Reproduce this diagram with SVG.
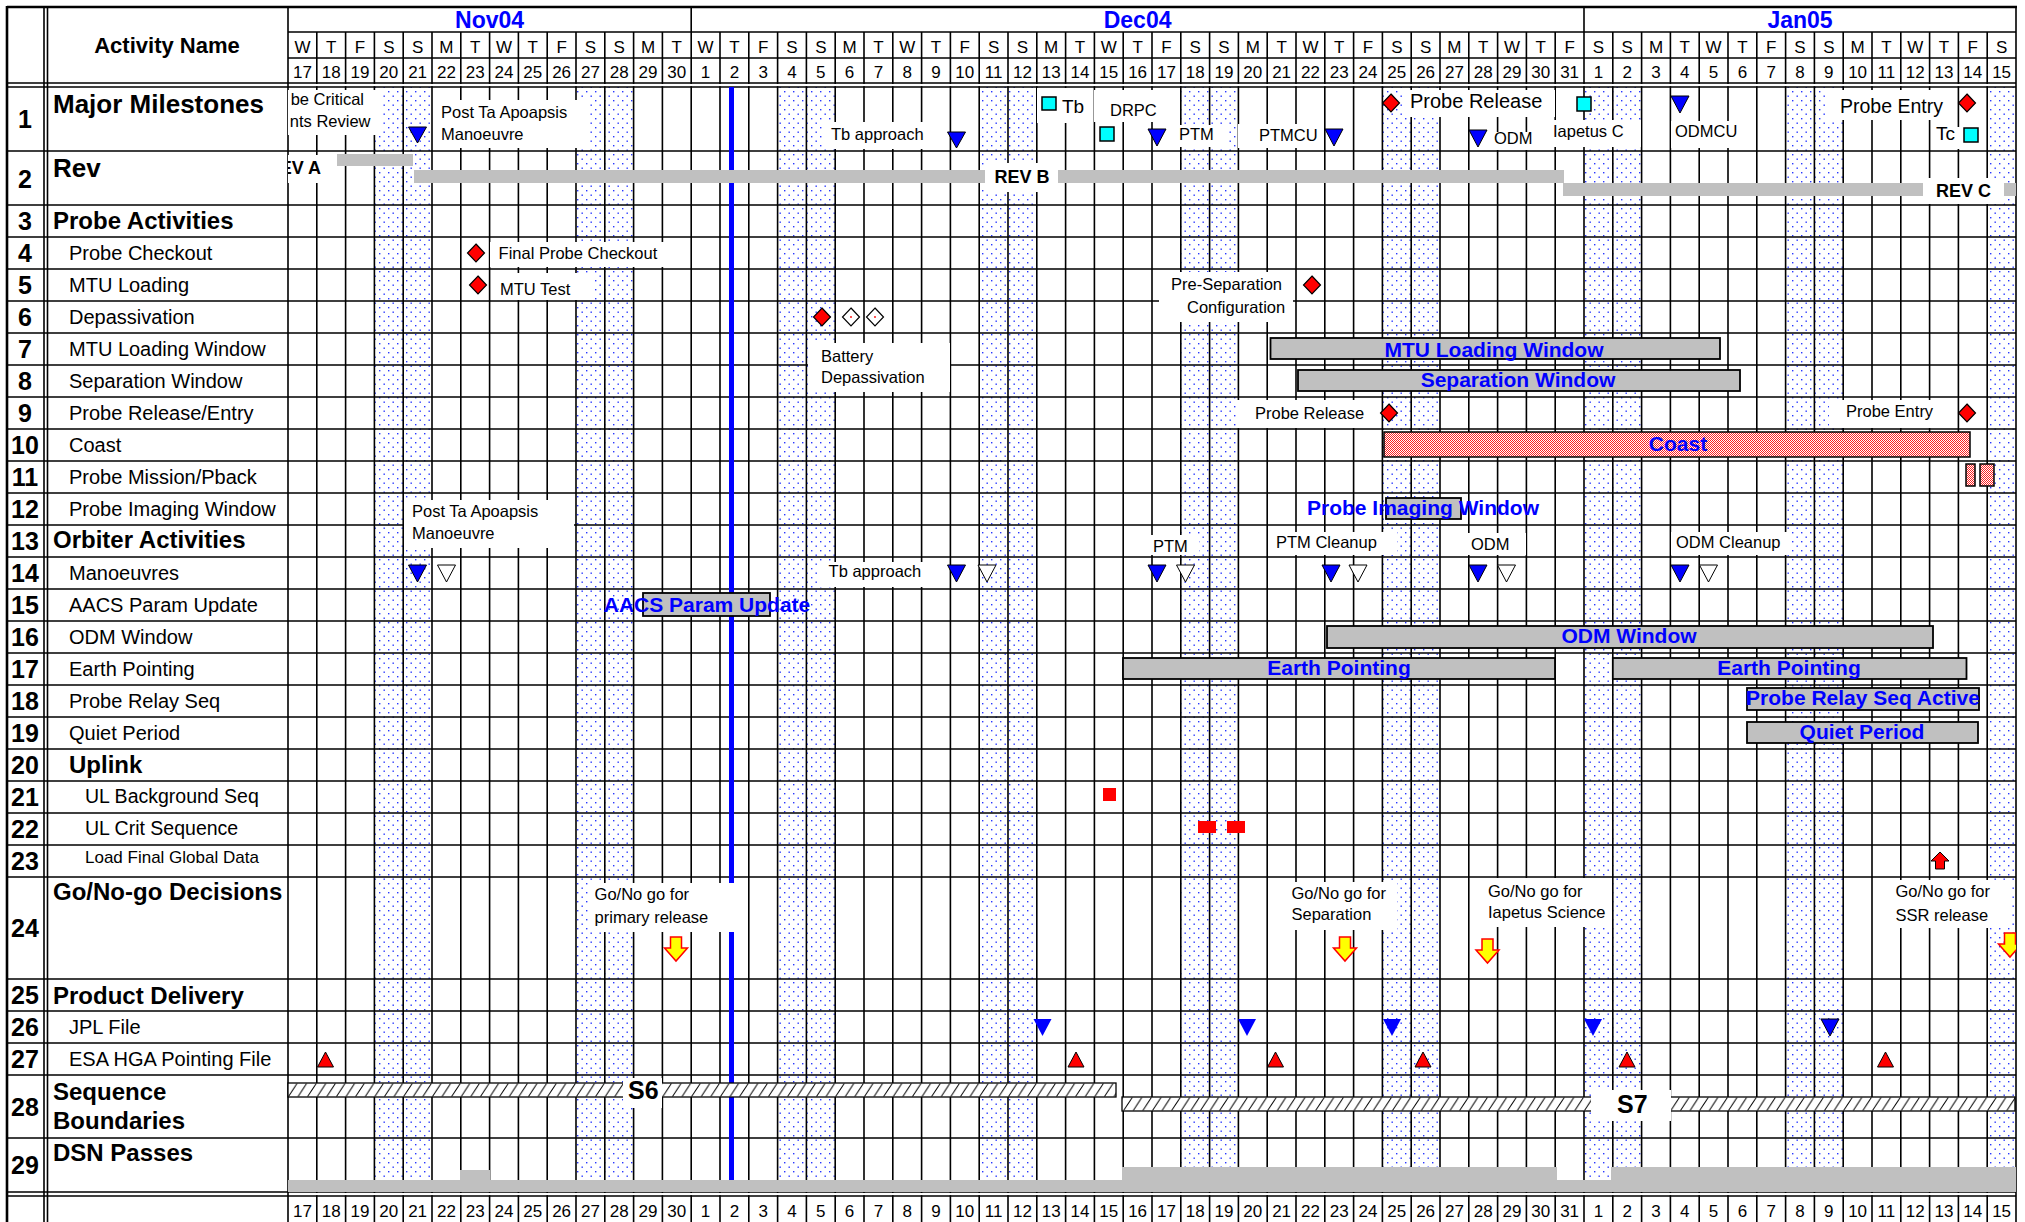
<svg xmlns="http://www.w3.org/2000/svg" width="2025" height="1222" viewBox="0 0 2025 1222">
<style>
text{font-family:"Liberation Sans",Arial,sans-serif;fill:#000}
.gl{stroke:#000;stroke-width:1.6;fill:none}
.mon{font-size:23px;font-weight:bold;fill:#0000ff;text-anchor:middle}
.dl{font-size:17px;text-anchor:middle}
.rn{font-size:25px;font-weight:bold;text-anchor:middle}
.h1{font-size:26px;font-weight:bold}
.h2{font-size:24px;font-weight:bold}
.it{font-size:20px}
.an{font-size:16.5px}
.anL{font-size:20px}
.box{fill:#fff}
.bar{fill:#c0c0c0;stroke:#000;stroke-width:1.8}
.rb{fill:#c0c0c0}
.bt{font-size:21px;font-weight:bold;fill:#0000ff;text-anchor:middle}
.tb{fill:#0000ff;stroke:#000;stroke-width:1}
.tn{fill:#0000ff}
.tw{fill:#fff;stroke:#000;stroke-width:1}
.dr{fill:#ff0000;stroke:#000;stroke-width:1.2}
.dw{fill:#fff;stroke:#000;stroke-width:1.2}
.sq{fill:#00ffff;stroke:#000;stroke-width:1.5}
.ru{fill:#ff0000;stroke:#000;stroke-width:1}
.ya{fill:#ffff00;stroke:#ff0000;stroke-width:1.5}
.rev{font-size:18px;font-weight:bold}
.pk{fill:url(#pk);stroke:#000;stroke-width:1.5}
.hb{fill:url(#hatch);stroke:#000;stroke-width:1.3}
.sl{font-size:25px;font-weight:bold}
</style>
<defs>
<pattern id="wk" patternUnits="userSpaceOnUse" width="9" height="9"><rect width="9" height="9" fill="#fff"/><rect x="1" y="1" width="1.4" height="1.4" fill="#2838ff"/><rect x="5.5" y="5.5" width="1.4" height="1.4" fill="#2838ff"/></pattern>
<pattern id="pk" patternUnits="userSpaceOnUse" width="2" height="2"><rect width="2" height="2" fill="#fff"/><rect width="1" height="1" fill="#ff2020"/><rect x="1" y="1" width="1" height="1" fill="#ff2020"/></pattern>
<pattern id="hatch" patternUnits="userSpaceOnUse" x="0" y="1083" width="9.6" height="14"><rect width="9.6" height="14" fill="#fff"/><path d="M0.5 13.5L9 0.5" stroke="#000" stroke-width="1"/></pattern>
<clipPath id="ch"><rect x="288" y="87" width="1728" height="1105"/></clipPath>
</defs>
<rect width="2025" height="1222" fill="#fff"/>

<g id="weekends" fill="url(#wk)">
<rect x="374.4" y="87" width="57.6" height="1105"/>
<rect x="576" y="87" width="57.6" height="1105"/>
<rect x="777.6" y="87" width="57.6" height="1105"/>
<rect x="979.2" y="87" width="57.6" height="1105"/>
<rect x="1180.8" y="87" width="57.6" height="1105"/>
<rect x="1382.4" y="87" width="57.6" height="1105"/>
<rect x="1584" y="87" width="57.6" height="1105"/>
<rect x="1785.6" y="87" width="57.6" height="1105"/>
<rect x="1987.2" y="87" width="28.8" height="1105"/>
</g>

<g id="grid">
<path class="gl" d="M316.8 32V1222M345.6 32V1222M374.4 32V1222M403.2 32V1222M432 32V1222M460.8 32V1222M489.6 32V1222M518.4 32V1222M547.2 32V1222M576 32V1222M604.8 32V1222M633.6 32V1222M662.4 32V1222M691.2 7V1222M720 32V1222M748.8 32V1222M777.6 32V1222M806.4 32V1222M835.2 32V1222M864 32V1222M892.8 32V1222M921.6 32V1222M950.4 32V1222M979.2 32V1222M1008 32V1222M1036.8 32V1222M1065.6 32V1222M1094.4 32V1222M1123.2 32V1222M1152 32V1222M1180.8 32V1222M1209.6 32V1222M1238.4 32V1222M1267.2 32V1222M1296 32V1222M1324.8 32V1222M1353.6 32V1222M1382.4 32V1222M1411.2 32V1222M1440 32V1222M1468.8 32V1222M1497.6 32V1222M1526.4 32V1222M1555.2 32V1222M1584 7V1222M1612.8 32V1222M1641.6 32V1222M1670.4 32V1222M1699.2 32V1222M1728 32V1222M1756.8 32V1222M1785.6 32V1222M1814.4 32V1222M1843.2 32V1222M1872 32V1222M1900.8 32V1222M1929.6 32V1222M1958.4 32V1222M1987.2 32V1222"/>
<rect x="7" y="84" width="2009" height="2.2" fill="#fff"/>
<rect x="7" y="1193" width="2009" height="2.2" fill="#fff"/>
<path class="gl" d="M288 32H2016M288 58H2016M7 83H2016M7 87H2016M7 151H2016M7 205H2016M7 237H2016M7 269H2016M7 301H2016M7 333H2016M7 365H2016M7 397H2016M7 429H2016M7 461H2016M7 493H2016M7 525H2016M7 557H2016M7 589H2016M7 621H2016M7 653H2016M7 685H2016M7 717H2016M7 749H2016M7 781H2016M7 813H2016M7 845H2016M7 877H2016M7 979H2016M7 1011H2016M7 1043H2016M7 1075H2016M7 1138H2016M7 1192H2016M7 1196H2016"/>
<path class="gl" d="M44 7V1222M47.5 7V1222M288 7V1222M2016 7V1222"/>
<path d="M7 7H2017M7 6V1222" stroke="#000" stroke-width="2.6" fill="none"/>
</g>

<g id="header">
<text x="167" y="53" style="font-size:22px;font-weight:bold" text-anchor="middle">Activity Name</text>
<text class="mon" x="489.6" y="28">Nov04</text>
<text class="mon" x="1137.6" y="28">Dec04</text>
<text class="mon" x="1800" y="28">Jan05</text>
<g class="dl">
<text x="302.4" y="53">W</text><text x="331.2" y="53">T</text><text x="360" y="53">F</text><text x="388.8" y="53">S</text><text x="417.6" y="53">S</text><text x="446.4" y="53">M</text><text x="475.2" y="53">T</text>
<text x="504" y="53">W</text><text x="532.8" y="53">T</text><text x="561.6" y="53">F</text><text x="590.4" y="53">S</text><text x="619.2" y="53">S</text><text x="648" y="53">M</text><text x="676.8" y="53">T</text>
<text x="705.6" y="53">W</text><text x="734.4" y="53">T</text><text x="763.2" y="53">F</text><text x="792" y="53">S</text><text x="820.8" y="53">S</text><text x="849.6" y="53">M</text><text x="878.4" y="53">T</text>
<text x="907.2" y="53">W</text><text x="936" y="53">T</text><text x="964.8" y="53">F</text><text x="993.6" y="53">S</text><text x="1022.4" y="53">S</text><text x="1051.2" y="53">M</text><text x="1080" y="53">T</text>
<text x="1108.8" y="53">W</text><text x="1137.6" y="53">T</text><text x="1166.4" y="53">F</text><text x="1195.2" y="53">S</text><text x="1224" y="53">S</text><text x="1252.8" y="53">M</text><text x="1281.6" y="53">T</text>
<text x="1310.4" y="53">W</text><text x="1339.2" y="53">T</text><text x="1368" y="53">F</text><text x="1396.8" y="53">S</text><text x="1425.6" y="53">S</text><text x="1454.4" y="53">M</text><text x="1483.2" y="53">T</text>
<text x="1512" y="53">W</text><text x="1540.8" y="53">T</text><text x="1569.6" y="53">F</text><text x="1598.4" y="53">S</text><text x="1627.2" y="53">S</text><text x="1656" y="53">M</text><text x="1684.8" y="53">T</text>
<text x="1713.6" y="53">W</text><text x="1742.4" y="53">T</text><text x="1771.2" y="53">F</text><text x="1800" y="53">S</text><text x="1828.8" y="53">S</text><text x="1857.6" y="53">M</text><text x="1886.4" y="53">T</text>
<text x="1915.2" y="53">W</text><text x="1944" y="53">T</text><text x="1972.8" y="53">F</text><text x="2001.6" y="53">S</text>
</g>
<g class="dl">
<text x="302.4" y="78">17</text><text x="331.2" y="78">18</text><text x="360" y="78">19</text><text x="388.8" y="78">20</text><text x="417.6" y="78">21</text><text x="446.4" y="78">22</text><text x="475.2" y="78">23</text><text x="504" y="78">24</text><text x="532.8" y="78">25</text><text x="561.6" y="78">26</text><text x="590.4" y="78">27</text><text x="619.2" y="78">28</text><text x="648" y="78">29</text><text x="676.8" y="78">30</text>
<text x="705.6" y="78">1</text><text x="734.4" y="78">2</text><text x="763.2" y="78">3</text><text x="792" y="78">4</text><text x="820.8" y="78">5</text><text x="849.6" y="78">6</text><text x="878.4" y="78">7</text><text x="907.2" y="78">8</text><text x="936" y="78">9</text><text x="964.8" y="78">10</text><text x="993.6" y="78">11</text><text x="1022.4" y="78">12</text><text x="1051.2" y="78">13</text><text x="1080" y="78">14</text><text x="1108.8" y="78">15</text><text x="1137.6" y="78">16</text><text x="1166.4" y="78">17</text><text x="1195.2" y="78">18</text><text x="1224" y="78">19</text><text x="1252.8" y="78">20</text><text x="1281.6" y="78">21</text><text x="1310.4" y="78">22</text><text x="1339.2" y="78">23</text><text x="1368" y="78">24</text><text x="1396.8" y="78">25</text><text x="1425.6" y="78">26</text><text x="1454.4" y="78">27</text><text x="1483.2" y="78">28</text><text x="1512" y="78">29</text><text x="1540.8" y="78">30</text><text x="1569.6" y="78">31</text>
<text x="1598.4" y="78">1</text><text x="1627.2" y="78">2</text><text x="1656" y="78">3</text><text x="1684.8" y="78">4</text><text x="1713.6" y="78">5</text><text x="1742.4" y="78">6</text><text x="1771.2" y="78">7</text><text x="1800" y="78">8</text><text x="1828.8" y="78">9</text><text x="1857.6" y="78">10</text><text x="1886.4" y="78">11</text><text x="1915.2" y="78">12</text><text x="1944" y="78">13</text><text x="1972.8" y="78">14</text><text x="2001.6" y="78">15</text>
</g>
</g>

<g id="footer" class="dl">
<text x="302.4" y="1217">17</text><text x="331.2" y="1217">18</text><text x="360" y="1217">19</text><text x="388.8" y="1217">20</text><text x="417.6" y="1217">21</text><text x="446.4" y="1217">22</text><text x="475.2" y="1217">23</text><text x="504" y="1217">24</text><text x="532.8" y="1217">25</text><text x="561.6" y="1217">26</text><text x="590.4" y="1217">27</text><text x="619.2" y="1217">28</text><text x="648" y="1217">29</text><text x="676.8" y="1217">30</text>
<text x="705.6" y="1217">1</text><text x="734.4" y="1217">2</text><text x="763.2" y="1217">3</text><text x="792" y="1217">4</text><text x="820.8" y="1217">5</text><text x="849.6" y="1217">6</text><text x="878.4" y="1217">7</text><text x="907.2" y="1217">8</text><text x="936" y="1217">9</text><text x="964.8" y="1217">10</text><text x="993.6" y="1217">11</text><text x="1022.4" y="1217">12</text><text x="1051.2" y="1217">13</text><text x="1080" y="1217">14</text><text x="1108.8" y="1217">15</text><text x="1137.6" y="1217">16</text><text x="1166.4" y="1217">17</text><text x="1195.2" y="1217">18</text><text x="1224" y="1217">19</text><text x="1252.8" y="1217">20</text><text x="1281.6" y="1217">21</text><text x="1310.4" y="1217">22</text><text x="1339.2" y="1217">23</text><text x="1368" y="1217">24</text><text x="1396.8" y="1217">25</text><text x="1425.6" y="1217">26</text><text x="1454.4" y="1217">27</text><text x="1483.2" y="1217">28</text><text x="1512" y="1217">29</text><text x="1540.8" y="1217">30</text><text x="1569.6" y="1217">31</text>
<text x="1598.4" y="1217">1</text><text x="1627.2" y="1217">2</text><text x="1656" y="1217">3</text><text x="1684.8" y="1217">4</text><text x="1713.6" y="1217">5</text><text x="1742.4" y="1217">6</text><text x="1771.2" y="1217">7</text><text x="1800" y="1217">8</text><text x="1828.8" y="1217">9</text><text x="1857.6" y="1217">10</text><text x="1886.4" y="1217">11</text><text x="1915.2" y="1217">12</text><text x="1944" y="1217">13</text><text x="1972.8" y="1217">14</text><text x="2001.6" y="1217">15</text>
</g>

<rect id="today-line" x="729" y="87" width="5" height="1093" fill="#0000ff"/>

<g id="row-1">
<text class="rn" x="25" y="128">1</text><text class="h1" x="53" y="113">Major Milestones</text>
<g clip-path="url(#ch)">
<rect class="box" x="288" y="90" width="94" height="45"/>
<text class="an" x="364" y="105" text-anchor="end">be Critical</text>
<text class="an" x="370.5" y="127" text-anchor="end">nts Review</text>
<rect class="box" x="434" y="100" width="154" height="48"/>
<text class="an" x="441" y="118">Post Ta Apoapsis</text>
<text class="an" x="441" y="140">Manoeuvre</text>
<path class="tb" d="M408.5 127H426.5L417.5 143Z"/>
<rect class="box" x="824" y="122" width="103" height="27"/>
<text class="an" x="831" y="140">Tb approach</text>
<path class="tb" d="M947.5 132H965.5L956.5 148Z"/>
<rect class="box" x="1037" y="88" width="56" height="35"/>
<rect class="sq" x="1042" y="97" width="14" height="13"/>
<text x="1062" y="113" style="font-size:19px">Tb</text>
<rect class="box" x="1094" y="90" width="80" height="32"/>
<text class="an" x="1110" y="116">DRPC</text>
<rect class="sq" x="1100" y="127" width="14" height="14"/>
<path class="tb" d="M1148 129H1166L1157 146Z"/>
<rect class="box" x="1175" y="125" width="52" height="22"/>
<text class="an" x="1179" y="140">PTM</text>
<rect class="box" x="1238" y="124" width="82" height="24"/>
<text class="an" x="1259" y="141">PTMCU</text>
<path class="tb" d="M1325 129H1343L1334 146Z"/>
<path class="dr" d="M1391 94L1399.5 103L1391 112L1382.5 103Z"/>
<rect class="box" x="1403" y="90" width="152" height="27"/>
<text class="anL" x="1410" y="108">Probe Release</text>
<path class="tb" d="M1469 130H1487L1478 147Z"/>
<rect class="box" x="1490" y="132" width="54" height="18"/>
<text class="an" x="1494" y="144">ODM</text>
<rect class="sq" x="1577" y="97" width="14" height="14"/>
<rect class="box" x="1548" y="120" width="93" height="27"/>
<text class="an" x="1553" y="137">Iapetus C</text>
<path class="tb" d="M1671 96H1689L1680 113Z"/>
<rect class="box" x="1671" y="121" width="65" height="27"/>
<text class="an" x="1675" y="137">ODMCU</text>
<rect class="box" x="1827" y="90" width="130" height="30"/>
<text x="1840" y="113" style="font-size:19.5px">Probe Entry</text>
<path class="dr" d="M1967 94L1975.5 103L1967 112L1958.5 103Z"/>
<rect class="box" x="1932" y="127" width="28" height="22"/>
<text x="1936" y="140" style="font-size:19px">Tc</text>
<rect class="sq" x="1964" y="128" width="14" height="14"/>
</g>
</g>

<g id="row-2">
<text class="rn" x="25" y="188">2</text><text class="h1" x="53" y="177">Rev</text>
<g clip-path="url(#ch)">
<rect class="rb" x="337" y="154" width="76" height="12"/>
<rect class="box" x="288" y="155" width="45" height="28"/>
<text class="rev" x="321" y="174" text-anchor="end">EV A</text>
<rect class="rb" x="414" y="170" width="1150" height="13"/>
<rect class="box" x="985" y="163" width="73" height="29"/>
<text class="rev" x="1022" y="183" text-anchor="middle">REV B</text>
<rect class="rb" x="1563" y="183" width="453" height="13"/>
<rect class="box" x="1923" y="178" width="81" height="26"/>
<text class="rev" x="1936" y="197">REV C</text>
</g>
</g>

<g id="row-3"><text class="rn" x="25" y="230">3</text><text class="h2" x="53" y="229">Probe Activities</text></g>

<g id="row-4">
<text class="rn" x="25" y="262">4</text><text class="it" x="69" y="260">Probe Checkout</text>
<path class="dr" d="M476 244L484.5 253L476 262L467.5 253Z"/>
<rect class="box" x="490" y="242" width="180" height="25"/>
<text class="an" x="498.6" y="259">Final Probe Checkout</text>
</g>

<g id="row-5">
<text class="rn" x="25" y="294">5</text><text class="it" x="69" y="292">MTU Loading</text>
<path class="dr" d="M478 276L486.5 285L478 294L469.5 285Z"/>
<rect class="box" x="497" y="273" width="95" height="27"/>
<text class="an" x="500" y="295">MTU Test</text>
<rect class="box" x="1159" y="272" width="134" height="50"/>
<text class="an" x="1171" y="290">Pre-Separation</text>
<text class="an" x="1187" y="313">Configuration</text>
<path class="dr" d="M1312 276L1320.5 285L1312 294L1303.5 285Z"/>
</g>

<g id="row-6">
<text class="rn" x="25" y="326">6</text><text class="it" x="69" y="324">Depassivation</text>
<path class="dr" d="M822 308L830.5 317L822 326L813.5 317Z"/>
<path class="dw" d="M851 308L859.5 317L851 326L842.5 317Z"/>
<path class="dw" d="M875 308L883.5 317L875 326L866.5 317Z"/>
<circle cx="851" cy="317" r="0.9" fill="#ff0000"/>
<circle cx="875" cy="317" r="0.9" fill="#ff0000"/>
<rect class="box" x="808" y="343" width="142" height="49"/>
<text class="an" x="821" y="362">Battery</text>
<text class="an" x="821" y="383">Depassivation</text>
</g>

<g id="row-7">
<text class="rn" x="25" y="358">7</text><text class="it" x="69" y="356">MTU Loading Window</text>
<rect class="bar" x="1270.5" y="338" width="449.5" height="21"/>
<text class="bt" x="1494" y="357">MTU Loading Window</text>
</g>

<g id="row-8">
<text class="rn" x="25" y="390">8</text><text class="it" x="69" y="388">Separation Window</text>
<rect class="bar" x="1298" y="370" width="442" height="21"/>
<text class="bt" x="1518" y="387">Separation Window</text>
</g>

<g id="row-9">
<text class="rn" x="25" y="422">9</text><text class="it" x="69" y="420">Probe Release/Entry</text>
<rect class="box" x="1237" y="400" width="126" height="28"/>
<text class="an" x="1255" y="419">Probe Release</text>
<path class="dr" d="M1389 404L1397.5 413L1389 422L1380.5 413Z"/>
<rect class="box" x="1829" y="400" width="108" height="28"/>
<text class="an" x="1846" y="417">Probe Entry</text>
<path class="dr" d="M1967 404L1975.5 413L1967 422L1958.5 413Z"/>
</g>

<g id="row-10">
<text class="rn" x="25" y="454">10</text><text class="it" x="69" y="452">Coast</text>
<rect class="pk" x="1384" y="432" width="586" height="25"/>
<text class="bt" x="1678" y="451">Coast</text>
</g>

<g id="row-11">
<text class="rn" x="25" y="486">11</text><text class="it" x="69" y="484">Probe Mission/Pback</text>
<rect class="pk" x="1966" y="464" width="9" height="22"/>
<rect class="pk" x="1980" y="464" width="14" height="22"/>
</g>

<g id="row-12">
<text class="rn" x="25" y="518">12</text><text class="it" x="69" y="516">Probe Imaging Window</text>
<rect class="box" x="404" y="500" width="170" height="48"/>
<text class="an" x="412" y="517">Post Ta Apoapsis</text>
<text class="an" x="412" y="539">Manoeuvre</text>
<rect class="bar" x="1386" y="498" width="75" height="21"/>
<text class="bt" x="1423" y="515">Probe Imaging Window</text>
</g>

<g id="row-13"><text class="rn" x="25" y="550">13</text><text class="h2" x="53" y="548">Orbiter Activities</text></g>

<g id="row-14">
<text class="rn" x="25" y="582">14</text><text class="it" x="69" y="580">Manoeuvres</text>
<path class="tb" d="M408.5 565H426.5L417.5 582Z"/>
<path class="tw" d="M437.5 565H455.5L446.5 582Z"/>
<rect class="box" x="820" y="562" width="116" height="25"/>
<text class="an" x="828.6" y="577">Tb approach</text>
<path class="tb" d="M947.5 565H965.5L956.5 582Z"/>
<path class="tw" d="M978 565H996L987 582Z"/>
<rect class="box" x="1145" y="535" width="54" height="20"/>
<text class="an" x="1153" y="552">PTM</text>
<path class="tb" d="M1148 565H1166L1157 582Z"/>
<path class="tw" d="M1176.5 565H1194.5L1185.5 582Z"/>
<rect class="box" x="1273" y="532" width="124" height="23"/>
<text class="an" x="1276" y="548">PTM Cleanup</text>
<path class="tb" d="M1322 565H1340L1331 582Z"/>
<path class="tw" d="M1349 565H1367L1358 582Z"/>
<rect class="box" x="1468" y="533" width="58" height="22"/>
<text class="an" x="1471" y="550">ODM</text>
<path class="tb" d="M1469 565H1487L1478 582Z"/>
<path class="tw" d="M1497.5 565H1515.5L1506.5 582Z"/>
<rect class="box" x="1671" y="532" width="118" height="23"/>
<text class="an" x="1676" y="548">ODM Cleanup</text>
<path class="tb" d="M1671 565H1689L1680 582Z"/>
<path class="tw" d="M1699.5 565H1717.5L1708.5 582Z"/>
</g>

<g id="row-15">
<text class="rn" x="25" y="614">15</text><text class="it" x="69" y="612">AACS Param Update</text>
<rect class="bar" x="643" y="593" width="127" height="23"/>
<text class="bt" x="707" y="612">AACS Param Update</text>
</g>

<g id="row-16">
<text class="rn" x="25" y="646">16</text><text class="it" x="69" y="644">ODM Window</text>
<rect class="bar" x="1327" y="626" width="606" height="22"/>
<text class="bt" x="1629" y="643">ODM Window</text>
</g>

<g id="row-17">
<text class="rn" x="25" y="678">17</text><text class="it" x="69" y="676">Earth Pointing</text>
<rect class="bar" x="1123" y="658" width="432" height="21"/>
<text class="bt" x="1339" y="675">Earth Pointing</text>
<rect class="bar" x="1612.8" y="658" width="353.7" height="21"/>
<text class="bt" x="1789" y="675">Earth Pointing</text>
</g>

<g id="row-18">
<text class="rn" x="25" y="710">18</text><text class="it" x="69" y="708">Probe Relay Seq</text>
<rect class="bar" x="1747" y="688" width="232" height="22"/>
<text class="bt" x="1863" y="705">Probe Relay Seq Active</text>
</g>

<g id="row-19">
<text class="rn" x="25" y="742">19</text><text class="it" x="69" y="740">Quiet Period</text>
<rect class="bar" x="1747" y="722" width="231" height="21"/>
<text class="bt" x="1862" y="739">Quiet Period</text>
</g>

<g id="row-20"><text class="rn" x="25" y="774">20</text><text class="h2" x="69" y="773">Uplink</text></g>

<g id="row-21">
<text class="rn" x="25" y="806">21</text><text x="85" y="803" style="font-size:19.5px">UL Background Seq</text>
<rect x="1103" y="788" width="13" height="13" fill="#ff0000"/>
</g>

<g id="row-22">
<text class="rn" x="25" y="838">22</text><text x="85" y="835" style="font-size:19.5px">UL Crit Sequence</text>
<rect x="1198" y="821" width="18" height="12" fill="#ff0000"/>
<rect x="1227" y="821" width="18" height="12" fill="#ff0000"/>
</g>

<g id="row-23">
<text class="rn" x="25" y="870">23</text><text x="85" y="863" style="font-size:17px">Load Final Global Data</text>
<path class="ru" d="M1940 852L1949 861H1944.5V869H1935.5V861H1931Z"/>
</g>

<g id="row-24">
<text class="rn" x="25" y="937">24</text><text class="h2" x="53" y="900">Go/No-go Decisions</text>
<g clip-path="url(#ch)">
<rect class="box" x="589" y="883" width="157" height="49"/>
<text class="an" x="594.6" y="900">Go/No go for</text>
<text class="an" x="594.6" y="923">primary release</text>
<path class="ya" d="M670.5 937H681.5V948H687.5L676 961L664.5 948H670.5Z"/>
<rect class="box" x="1284" y="882" width="113" height="48"/>
<text class="an" x="1291.5" y="899">Go/No go for</text>
<text class="an" x="1291.5" y="920">Separation</text>
<path class="ya" d="M1339.5 937H1350.5V948H1356.5L1345 961L1333.5 948H1339.5Z"/>
<rect class="box" x="1470" y="878" width="141" height="49"/>
<text class="an" x="1488" y="897">Go/No go for</text>
<text class="an" x="1488" y="918">Iapetus Science</text>
<path class="ya" d="M1482 939H1493V950H1499L1487.5 963L1476 950H1482Z"/>
<rect class="box" x="1885" y="880" width="125" height="48"/>
<text class="an" x="1895.5" y="897">Go/No go for</text>
<text class="an" x="1895.5" y="921">SSR release</text>
<path class="ya" d="M2004.5 933H2015.5V944H2021.5L2010 957L1998.5 944H2004.5Z"/>
</g>
</g>

<g id="row-25"><text class="rn" x="25" y="1004">25</text><text class="h2" x="53" y="1004">Product Delivery</text></g>

<g id="row-26">
<text class="rn" x="25" y="1036">26</text><text class="it" x="69" y="1034">JPL File</text>
<path class="tn" d="M1033.5 1019H1051.5L1042.5 1036Z"/>
<path class="tn" d="M1238 1019H1256L1247 1036Z"/>
<path class="tn" d="M1383 1019H1401L1392 1036Z"/>
<path class="tn" d="M1584 1019H1602L1593 1036Z"/>
<path class="tb" d="M1821 1019H1839L1830 1036Z"/>
</g>

<g id="row-27">
<text class="rn" x="25" y="1068">27</text><text class="it" x="69" y="1066">ESA HGA Pointing File</text>
<path class="ru" d="M317.5 1067H333.5L325.5 1052Z"/>
<path class="ru" d="M1068 1067H1084L1076 1052Z"/>
<path class="ru" d="M1267.5 1067H1283.5L1275.5 1052Z"/>
<path class="ru" d="M1415 1067H1431L1423 1052Z"/>
<path class="ru" d="M1619 1067H1635L1627 1052Z"/>
<path class="ru" d="M1877.5 1067H1893.5L1885.5 1052Z"/>
</g>

<g id="row-28">
<text class="rn" x="25" y="1116">28</text><text class="h2" x="53" y="1100">Sequence</text><text class="h2" x="53" y="1129">Boundaries</text>
<rect class="hb" x="288" y="1083" width="828" height="14"/>
<rect class="box" x="623" y="1078" width="39" height="30"/>
<text class="sl" x="628" y="1099">S6</text>
<rect class="hb" x="1122" y="1097" width="893" height="14"/>
<rect class="box" x="1591" y="1090" width="80" height="31"/>
<text class="sl" x="1617" y="1113">S7</text>
</g>

<g id="row-29">
<text class="rn" x="25" y="1174">29</text><text class="h2" x="53" y="1161">DSN Passes</text>
<rect class="rb" x="288" y="1180" width="1728" height="12"/>
<rect class="rb" x="460" y="1170" width="30" height="10"/>
<rect class="rb" x="1122" y="1167" width="435" height="13"/>
<rect class="rb" x="1611" y="1167" width="405" height="13"/>
</g>
</svg>
